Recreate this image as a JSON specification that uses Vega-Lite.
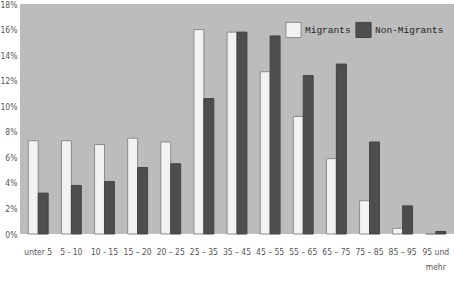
{
  "$schema": "https://vega.github.io/schema/vega-lite/v6.json",
  "width": 434,
  "height": 230,
  "autosize": "none",
  "padding": {"left": 20, "top": 4, "right": 0, "bottom": 49},
  "background": "white",
  "view": {"fill": "#bcbcbc", "stroke": null},
  "data": {
    "values": [
      {"age": "unter 5", "group": "Migrants", "pct": 7.3},
      {"age": "unter 5", "group": "Non-Migrants", "pct": 3.2},
      {"age": "5 - 10", "group": "Migrants", "pct": 7.3},
      {"age": "5 - 10", "group": "Non-Migrants", "pct": 3.8},
      {"age": "10 - 15", "group": "Migrants", "pct": 7.0},
      {"age": "10 - 15", "group": "Non-Migrants", "pct": 4.1},
      {"age": "15 – 20", "group": "Migrants", "pct": 7.5},
      {"age": "15 – 20", "group": "Non-Migrants", "pct": 5.2},
      {"age": "20 – 25", "group": "Migrants", "pct": 7.2},
      {"age": "20 – 25", "group": "Non-Migrants", "pct": 5.5},
      {"age": "25 – 35", "group": "Migrants", "pct": 16.0},
      {"age": "25 – 35", "group": "Non-Migrants", "pct": 10.6},
      {"age": "35 – 45", "group": "Migrants", "pct": 15.8},
      {"age": "35 – 45", "group": "Non-Migrants", "pct": 15.8},
      {"age": "45 – 55", "group": "Migrants", "pct": 12.7},
      {"age": "45 – 55", "group": "Non-Migrants", "pct": 15.5},
      {"age": "55 – 65", "group": "Migrants", "pct": 9.2},
      {"age": "55 – 65", "group": "Non-Migrants", "pct": 12.4},
      {"age": "65 – 75", "group": "Migrants", "pct": 5.9},
      {"age": "65 – 75", "group": "Non-Migrants", "pct": 13.3},
      {"age": "75 – 85", "group": "Migrants", "pct": 2.6},
      {"age": "75 – 85", "group": "Non-Migrants", "pct": 7.2},
      {"age": "85 – 95", "group": "Migrants", "pct": 0.45},
      {"age": "85 – 95", "group": "Non-Migrants", "pct": 2.2},
      {"age": "95 und mehr", "group": "Migrants", "pct": 0},
      {"age": "95 und mehr", "group": "Non-Migrants", "pct": 0.2}
    ]
  },
  "mark": {"type": "bar", "strokeWidth": 1},
  "encoding": {
    "x": {
      "field": "age",
      "type": "nominal",
      "sort": null,
      "scale": {"paddingInner": 0.4, "paddingOuter": 0.25},
      "axis": {
        "title": null,
        "labelAngle": 0,
        "ticks": false,
        "domain": false,
        "labelPadding": 13,
        "labelFont": "DejaVu Sans Condensed, Liberation Sans Narrow, Arial",
        "labelFontSize": 8.5,
        "labelColor": "#555555",
        "labelLineHeight": 15,
        "labelExpr": "datum.label == '95 und mehr' ? ['95 und', 'mehr'] : datum.label"
      }
    },
    "xOffset": {"field": "group", "type": "nominal", "scale": {"paddingInner": 0}},
    "y": {
      "field": "pct",
      "type": "quantitative",
      "scale": {"domain": [0, 18], "nice": false},
      "axis": {
        "title": null,
        "values": [0, 2, 4, 6, 8, 10, 12, 14, 16, 18],
        "labelExpr": "datum.value + '%'",
        "grid": false,
        "ticks": false,
        "domain": false,
        "labelPadding": 3,
        "labelFont": "DejaVu Sans Condensed, Liberation Sans Narrow, Arial",
        "labelFontSize": 8.5,
        "labelColor": "#555555"
      }
    },
    "fill": {
      "field": "group",
      "type": "nominal",
      "scale": {"domain": ["Migrants", "Non-Migrants"], "range": ["#f2f2f2", "#4e4e4e"]},
      "legend": {
        "title": null,
        "orient": "none",
        "direction": "horizontal",
        "legendX": 265,
        "legendY": 17,
        "symbolType": "square",
        "symbolSize": 230,
        "symbolStrokeWidth": 1,
        "labelFont": "Liberation Mono",
        "labelFontSize": 9.5,
        "labelColor": "#222222",
        "labelOffset": 3,
        "columnPadding": 2
      }
    },
    "stroke": {
      "field": "group",
      "type": "nominal",
      "scale": {"domain": ["Migrants", "Non-Migrants"], "range": ["#8a8a8a", "#444444"]},
      "legend": null
    }
  }
}
